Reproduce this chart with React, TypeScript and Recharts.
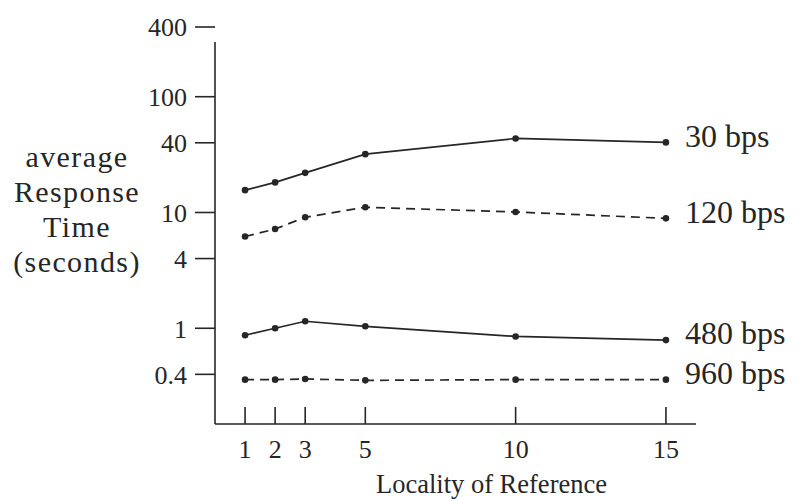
import React from 'react';
import { LineChart, Line, XAxis, YAxis, ReferenceLine, LabelList } from 'recharts';

// locality of reference (x) and average response time in seconds per line speed
const localities = [1, 2, 3, 5, 10, 15];
const bps30 = [15.6, 18.2, 22.0, 31.9, 43.6, 40.3];
const bps120 = [6.2, 7.2, 9.1, 11.1, 10.1, 8.9];
const bps480 = [0.87, 1.0, 1.15, 1.04, 0.85, 0.79];
const bps960 = [0.36, 0.36, 0.365, 0.355, 0.36, 0.36];

const xTicks = [1, 2, 3, 5, 10, 15];
const yTicks = [0.4, 1, 4, 10, 40, 100, 400];
const yLabelLines = ['average', 'Response', 'Time', '(seconds)'];

const series = [
  { key: 'bps30', name: '30 bps', values: bps30, dashed: false },
  { key: 'bps120', name: '120 bps', values: bps120, dashed: true },
  { key: 'bps480', name: '480 bps', values: bps480, dashed: false },
  { key: 'bps960', name: '960 bps', values: bps960, dashed: true },
];

const data = localities.map((x, i) => {
  const row: Record<string, number> = { x };
  series.forEach(s => (row[s.key] = s.values[i]));
  return row;
});

const FONT = '"Liberation Serif", serif';
const INK = '#262626';
const Y_MIN = 0.149;
const Y_AXIS_TOP = 297;

// only the last point of each line gets its name
function endLabel(name: string) {
  // eslint-disable-next-line @typescript-eslint/no-explicit-any
  return (props: any) => {
    const { x, y, index } = props;
    if (index !== localities.length - 1) return null;
    return (
      <text x={x + 19} y={y} dy={-3} dominantBaseline="middle" fontSize={32} fontFamily={FONT} fill={INK}>
        {name}
      </text>
    );
  };
}

// eslint-disable-next-line @typescript-eslint/no-explicit-any
function YTitle(props: any) {
  const cx = 77;
  const top = 160;
  return (
    <text textAnchor="middle" fontSize={30} letterSpacing={1.4} fontFamily={FONT} fill={INK}>
      {yLabelLines.map((l, i) => (
        <tspan key={l} x={cx} y={top + i * 35} dominantBaseline="middle">
          {l}
        </tspan>
      ))}
    </text>
  );
}

// eslint-disable-next-line @typescript-eslint/no-explicit-any
function XTitle(props: any) {
  const vb = props.viewBox || {};
  return (
    <text
      x={vb.x + vb.width / 2 + 36}
      y={vb.y + 69}
      textAnchor="middle"
      fontSize={26.5}
      fontFamily={FONT}
      fill={INK}
    >
      Locality of Reference
    </text>
  );
}

export default function App() {
  return (
    <div style={{ position: 'absolute', left: 0, top: 0, background: '#fff' }}>
      <LineChart
        width={798}
        height={501}
        data={data}
        margin={{ top: 27, right: 102, bottom: 17, left: 155 }}
        style={{ fontFamily: FONT }}
      >
        <XAxis
          dataKey="x"
          type="number"
          domain={[0, 16]}
          ticks={xTicks}
          allowDataOverflow
          height={60}
          stroke={INK}
          strokeWidth={1.6}
          tickSize={-17}
          tickMargin={33}
          tick={{ fontSize: 26, fill: INK, fontFamily: FONT }}
          label={<XTitle />}
        />
        <YAxis
          type="number"
          scale="log"
          domain={[Y_MIN, 400]}
          allowDataOverflow
          ticks={yTicks}
          width={60}
          axisLine={false}
          stroke={INK}
          strokeWidth={1.6}
          tickSize={20}
          tickMargin={8}
          tick={{ fontSize: 26, fill: INK, fontFamily: FONT }}
          label={<YTitle />}
        />
        <ReferenceLine
          segment={[
            { x: 0, y: Y_MIN },
            { x: 0, y: Y_AXIS_TOP },
          ]}
          stroke={INK}
          strokeWidth={1.6}
          ifOverflow="visible"
        />
        {series.map(s => (
          <Line
            key={s.key}
            dataKey={s.key}
            name={s.name}
            stroke={INK}
            strokeWidth={1.7}
            strokeDasharray={s.dashed ? '9 6' : undefined}
            dot={{ r: 3.3, fill: INK, stroke: INK, strokeWidth: 0 }}
            activeDot={false}
            isAnimationActive={false}
          >
            <LabelList dataKey={s.key} content={endLabel(s.name)} />
          </Line>
        ))}
      </LineChart>
    </div>
  );
}
